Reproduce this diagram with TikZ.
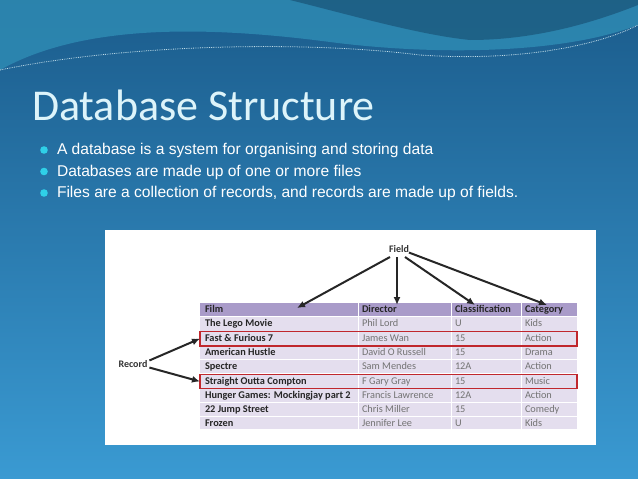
\documentclass[tikz,border=0pt]{standalone}
\usepackage{fontspec}
\setmainfont{Liberation Sans}
\newfontfamily\calib{Carlito}
\usetikzlibrary{arrows.meta}
\definecolor{topblue}{HTML}{1B5C8C}
\definecolor{lowblue}{HTML}{3A9AD2}
\definecolor{wave}{HTML}{2F8DB5}
\definecolor{titlecol}{HTML}{DDF4FA}
\definecolor{dotcol}{HTML}{2FD0E8}
\definecolor{headcol}{HTML}{A99BC9}
\definecolor{rowcol}{HTML}{E4DEEE}
\definecolor{boxred}{HTML}{C0272D}
\begin{document}
\begin{tikzpicture}[x=1pt,y=-1pt]
\tikzset{every node/.style={inner sep=0pt, outer sep=0pt}}
\tikzset{bullet/.style={anchor=west, text=white, font=\fontsize{15.6}{18}\selectfont}}
\tikzset{cell/.style={anchor=west, text height=7pt, text depth=2pt, font=\calib\fontsize{10.3}{11}\selectfont, text=black!55}}
\tikzset{boldcell/.style={cell, font=\calib\bfseries\fontsize{10.3}{11}\selectfont, text=black!85}}
\tikzset{lbl/.style={font=\calib\bfseries\fontsize{10}{11}\selectfont, text=black!80}}
\tikzset{arr/.style={-{Latex[length=8pt,width=7pt]}, line width=2pt, black!85}}
\tikzset{recbox/.style={draw=boxred, line width=1.4pt, minimum width=377, minimum height=14.5, anchor=west}}
\useasboundingbox (0,0) rectangle (638,479);
%%%%%% background
\shade[top color=topblue, bottom color=lowblue] (0,0) rectangle (638,479);
\fill[wave, opacity=.8] (0,0) -- (638,0) -- (638,25) .. controls (560,55) and (430,55) .. (330,42) .. controls (200,25) and (80,25) .. (0,70) -- cycle;
\fill[topblue!70!black, opacity=.5] (290,0) .. controls (350,15) and (420,35) .. (470,40) .. controls (540,40) and (600,20) .. (638,5) -- (638,0) -- cycle;
\draw[white!70!wave, densely dotted, line width=.8pt] (0,70) .. controls (120,45) and (300,40) .. (420,55) .. controls (520,62) and (600,45) .. (638,25);

%%%%%% title and bullets
\node(title)at(32,105)[anchor=west, text=titlecol, font=\calib\fontsize{44}{46}\selectfont]{Database Structure};
\foreach \t [count=\i] in {A database is a system for organising and storing data,
  Databases are made up of one or more files,
  {Files are a collection of records, and records are made up of fields.}}{
  \fill[dotcol] (44,128.5+21.5*\i) circle (3.8);
  \node(b\i)at(57,129+21.5*\i)[bullet]{\t};
}

%%%%%% panel and table
\fill[white] (105,230) rectangle (596,445);
\fill[rowcol] (200,303) rectangle (577,429);
\fill[headcol] (200,303) rectangle (577,316.5);
\foreach \i in {1,...,8}\draw[white, line width=.8pt] (200,302.3+14.3*\i) -- (577,302.3+14.3*\i);
\foreach \x in {358,451,521}\draw[white, line width=.8pt] (\x,303) -- (\x,429);

\foreach \f/\d/\c/\k [count=\i from 0] in {The Lego Movie/Phil Lord/U/Kids,
  Fast \& Furious 7/James Wan/15/Action,
  American Hustle/David O Russell/15/Drama,
  Spectre/Sam Mendes/12A/Action,
  Straight Outta Compton/F Gary Gray/15/Music,
  Hunger Games: Mockingjay part 2/Francis Lawrence/12A/Action,
  22 Jump Street/Chris Miller/15/Comedy,
  Frozen/Jennifer Lee/U/Kids}{
  \node(f\i)at(205,324.3+14.3*\i)[boldcell]{\f};
  \node(d\i)at(362,324.3+14.3*\i)[cell]{\d};
  \node(c\i)at(455,324.3+14.3*\i)[cell]{\c};
  \node(k\i)at(525,324.3+14.3*\i)[cell]{\k};
}
\node(hfilm)at(205,310)[boldcell]{Film};
\node(hdir)at(362,310)[boldcell]{Director};
\node(hcls)at(455,310)[boldcell]{Classification};
\node(hcat)at(525,310)[boldcell]{Category};
\node(rec1)[recbox] at (200,338.6) {};
\node(rec2)[recbox] at (200,381.5) {};

%%%%%% labels and arrows
\node(field)at(399,249)[lbl]{Field};
\node(record)at(133,364)[lbl]{Record};
\coordinate(tfilm)at(297,308);
\coordinate(tdir)at(397,305);
\coordinate(tcls)at(475,305);
\coordinate(tcat)at(547,305);
\draw[arr] (390,257) -- (tfilm);
\draw[arr] (397,257) -- (tdir);
\draw[arr] (405,257) -- (tcls);
\draw[arr] (field.south east) -- (tcat);
\draw[arr] ([xshift=2pt]record.north east) -- (rec1.west);
\draw[arr] ([xshift=2pt]record.south east) -- (rec2.west);
\end{tikzpicture}
\end{document}
